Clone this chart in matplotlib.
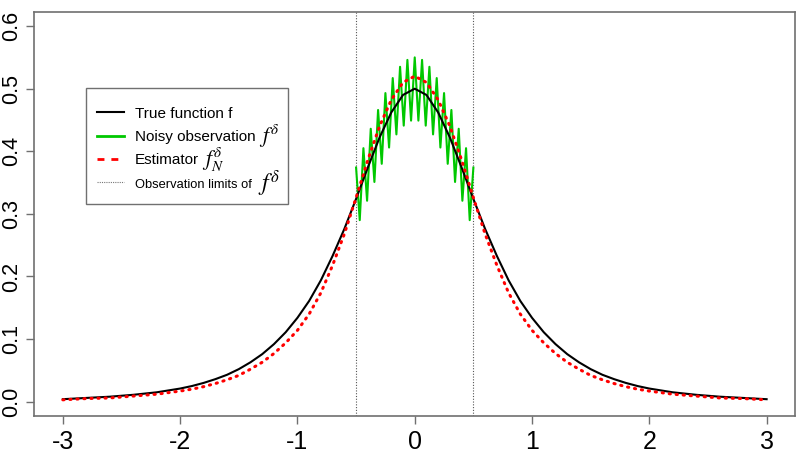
import numpy as np
import matplotlib
matplotlib.use('Agg')
import matplotlib.pyplot as plt
from matplotlib.lines import Line2D
from matplotlib.patches import Rectangle
from matplotlib.font_manager import FontProperties

plt.rcParams['mathtext.fontset'] = 'stix'

x_grid = [-3.0, -2.8, -2.6, -2.4, -2.2, -2.0, -1.9, -1.8, -1.7, -1.6, -1.5,
          -1.4, -1.3, -1.2, -1.1, -1.0, -0.9, -0.8, -0.7, -0.6, -0.5, -0.4,
          -0.3, -0.2, -0.1, 0.0, 0.1, 0.2, 0.3, 0.4, 0.5, 0.6, 0.7, 0.8, 0.9,
          1.0, 1.1, 1.2, 1.3, 1.4, 1.5, 1.6, 1.7, 1.8, 1.9, 2.0, 2.2, 2.4,
          2.6, 2.8, 3.0]

# true function f
f_true = [0.004, 0.006, 0.008, 0.011, 0.015, 0.021, 0.025, 0.030, 0.036,
          0.043, 0.052, 0.063, 0.076, 0.092, 0.111, 0.134, 0.161, 0.194,
          0.233, 0.276, 0.324, 0.374, 0.422, 0.462, 0.490, 0.500, 0.490,
          0.462, 0.422, 0.374, 0.324, 0.276, 0.233, 0.194, 0.161, 0.134,
          0.111, 0.092, 0.076, 0.063, 0.052, 0.043, 0.036, 0.030, 0.025,
          0.021, 0.015, 0.011, 0.008, 0.006, 0.004]

# estimator f_N
f_est = [0.003, 0.005, 0.006, 0.009, 0.012, 0.017, 0.020, 0.024, 0.029,
         0.035, 0.042, 0.052, 0.063, 0.077, 0.094, 0.114, 0.140, 0.174,
         0.218, 0.268, 0.326, 0.386, 0.440, 0.482, 0.510, 0.520, 0.510,
         0.482, 0.440, 0.386, 0.326, 0.268, 0.218, 0.174, 0.140, 0.114,
         0.094, 0.077, 0.063, 0.052, 0.042, 0.035, 0.029, 0.024, 0.020,
         0.017, 0.012, 0.009, 0.006, 0.005, 0.003]

# noisy observation (peaks and troughs) on [-0.5, 0.5]
x_noisy = [-0.5, -0.46875, -0.4375, -0.40625, -0.375, -0.34375, -0.3125,
           -0.28125, -0.25, -0.21875, -0.1875, -0.15625, -0.125, -0.09375,
           -0.0625, -0.03125, 0.0, 0.03125, 0.0625, 0.09375, 0.125, 0.15625,
           0.1875, 0.21875, 0.25, 0.28125, 0.3125, 0.34375, 0.375, 0.40625,
           0.4375, 0.46875, 0.5]
f_noisy = [0.374, 0.290, 0.405, 0.321, 0.436, 0.351, 0.466, 0.380, 0.493,
           0.406, 0.517, 0.427, 0.535, 0.441, 0.546, 0.449, 0.550, 0.449,
           0.546, 0.441, 0.535, 0.427, 0.517, 0.406, 0.493, 0.380, 0.466,
           0.351, 0.436, 0.321, 0.405, 0.290, 0.374]

obs_limits = [-0.5, 0.5]
x_ticks = [-3, -2, -1, 0, 1, 2, 3]
y_ticks = [0.0, 0.1, 0.2, 0.3, 0.4, 0.5, 0.6]
y_ticklabels = ['0.0', '0.1', '0.2', '0.3', '0.4', '0.5', '0.6']
labels = ['True function f', 'Noisy observation', 'Estimator',
          'Observation limits of']
label_math = [None, '$f^{\\delta}$', '$f_N^{\\delta}$', '$f^{\\delta}$']

regular = ['Liberation Sans', 'DejaVu Sans']
green = '#00C800'
axis_grey = '#707070'

fig = plt.figure(figsize=(8.1, 4.53), dpi=100)
ax = fig.add_axes([0.0424, 0.0823, 0.9385, 0.8905])

ax.plot(x_noisy, f_noisy, color=green, lw=1.5, zorder=2)
ax.plot(x_grid, f_true, color='black', lw=1.5, zorder=3)
ax.plot(x_grid, f_est, color='red', lw=2.2, ls=(0, (0.4, 1.9)),
        dash_capstyle='round', zorder=4)
for xv in obs_limits:
    ax.axvline(xv, color='#555555', lw=0.8, ls=(0, (1, 1.5)), zorder=1)

ax.set_xlim(-3.243, 3.238)
ax.set_ylim(-0.0224, 0.622)

for s in ax.spines.values():
    s.set_color(axis_grey)
    s.set_linewidth(1.2)

ax.set_xticks(x_ticks)
ax.set_xticklabels([str(v) for v in x_ticks], fontfamily=regular, fontsize=18)
ax.set_yticks(y_ticks)
ax.set_yticklabels(y_ticklabels, fontfamily=regular, fontsize=15.5,
                   rotation=90, va='center')
ax.tick_params(axis='both', direction='out', length=5.5, width=1.0,
               color=axis_grey)
ax.tick_params(axis='x', pad=5)
ax.tick_params(axis='y', pad=3)

# legend frame drawn by hand so its size matches the original
ax.add_patch(Rectangle((0.068, 0.5248), 0.2657, 0.2876, transform=ax.transAxes,
                       facecolor='white', edgecolor=axis_grey, lw=1.0,
                       zorder=5))

handles = [Line2D([], [], color='black', lw=1.5),
           Line2D([], [], color=green, lw=2.0),
           Line2D([], [], color='red', lw=2.0, ls=(0, (2.5, 2.5))),
           Line2D([], [], color='#777777', lw=0.8, ls=(0, (1, 1)))]
leg = ax.legend(handles, labels, loc='upper left',
                bbox_to_anchor=(0.068, 0.793), borderaxespad=0,
                prop=FontProperties(family=regular, size=11),
                handlelength=1.8, handletextpad=0.7, labelspacing=0.62,
                borderpad=0.7, frameon=False)
leg.set_zorder(6)
texts = leg.get_texts()
texts[3].set_fontsize(9.3)

# the italic f symbols after the legend labels
fig.canvas.draw()
for t, m in zip(texts, label_math):
    if m is None:
        continue
    bb = t.get_window_extent()
    last = t is texts[3]
    px, py = fig.transFigure.inverted().transform(
        (bb.x1 + (6 if last else 3), (bb.y0 + bb.y1) / 2 + 1))
    fig.text(px, py, m, fontsize=17 if last else 15.5, va='center',
             ha='left', zorder=7)

fig.savefig('out.png', dpi=100)
